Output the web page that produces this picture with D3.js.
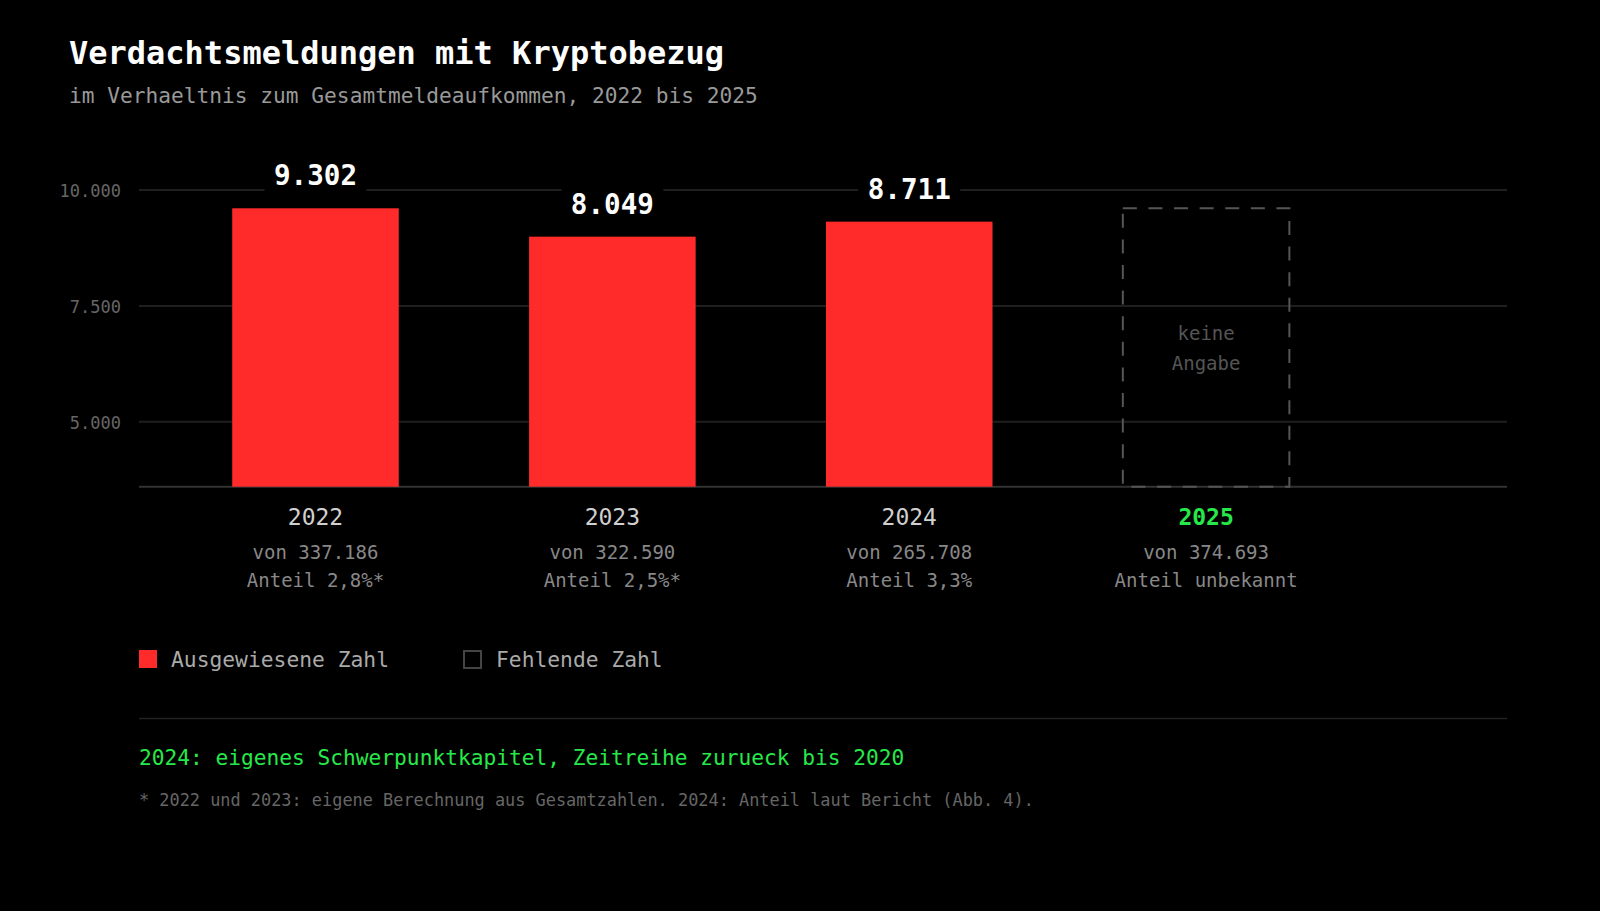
<!DOCTYPE html>
<html>
<head>
<meta charset="utf-8">
<script src="https://cdn.jsdelivr.net/npm/d3@7"></script>
<style>
  html, body { margin: 0; padding: 0; background: #000; }
  svg { display: block; }
  text { font-family: "DejaVu Sans Mono", "Liberation Mono", monospace; }
</style>
</head>
<body>
<svg id="chart" width="1600" height="911"></svg>
<script>
// ---- data ----
const years = ["2022", "2023", "2024", "2025"];
const counts = [9302, 8049, 8711, null];
const countLabels = ["9.302", "8.049", "8.711", null];
const totals = ["von 337.186", "von 322.590", "von 265.708", "von 374.693"];
const shares = ["Anteil 2,8%*", "Anteil 2,5%*", "Anteil 3,3%", "Anteil unbekannt"];
const tickValues = [10000, 7500, 5000];
const tickLabels = ["10.000", "7.500", "5.000"];
const missingLabel = ["keine", "Angabe"];
const legendItems = ["Ausgewiesene Zahl", "Fehlende Zahl"];
const titleText = "Verdachtsmeldungen mit Kryptobezug";
const subtitleText = "im Verhaeltnis zum Gesamtmeldeaufkommen, 2022 bis 2025";
const noteText = "2024: eigenes Schwerpunktkapitel, Zeitreihe zurueck bis 2020";
const footnoteText = "* 2022 und 2023: eigene Berechnung aus Gesamtzahlen. 2024: Anteil laut Bericht (Abb. 4).";

// ---- style ----
const RED = "#ff2b2b", GREEN = "#27e84a";
const svg = d3.select("#chart");
svg.append("rect").attr("width", 1600).attr("height", 911).attr("fill", "#000");

const left = 139, right = 1507, base = 486.7;
const x = d3.scaleBand().domain(years).range([left, 1382.6]).paddingInner(0.439).paddingOuter(0.314);
const yAxis = d3.scaleLinear().domain([3600, 10000]).range([base, 190]);
const yBar = d3.scaleLinear().domain([-3000, d3.max(counts)]).range([base, 208.3]);

// title
svg.append("text").attr("x", 69).attr("y", 64).attr("fill", "#fff")
  .attr("font-size", 32).attr("font-weight", "bold").text(titleText);
svg.append("text").attr("x", 69).attr("y", 102.5).attr("fill", "#999")
  .attr("font-size", 21.2).text(subtitleText);

// gridlines + ticks
const grid = svg.append("g");
tickValues.forEach((v, i) => {
  grid.append("line").attr("x1", left).attr("x2", right)
    .attr("y1", yAxis(v)).attr("y2", yAxis(v))
    .attr("stroke", "#1f1f1f").attr("stroke-width", 2);
  grid.append("text").attr("x", 121).attr("y", yAxis(v) + 7)
    .attr("text-anchor", "end").attr("fill", "#666").attr("font-size", 17)
    .text(tickLabels[i]);
});
svg.append("line").attr("x1", left).attr("x2", right).attr("y1", base).attr("y2", base)
  .attr("stroke", "#333").attr("stroke-width", 2);

// bars
const data = years.map((y, i) => ({ year: y, v: counts[i], lab: countLabels[i], tot: totals[i], sh: shares[i] }));
svg.append("g").selectAll("rect").data(data.filter(d => d.v != null)).join("rect")
  .attr("x", d => x(d.year)).attr("width", x.bandwidth())
  .attr("y", d => yBar(d.v)).attr("height", d => base - yBar(d.v))
  .attr("fill", RED);

// missing box
data.filter(d => d.v == null).forEach(d => {
  const top = yBar(d3.max(counts));
  svg.append("rect").attr("x", x(d.year)).attr("y", top)
    .attr("width", x.bandwidth()).attr("height", base - top)
    .attr("fill", "none").attr("stroke", "#555").attr("stroke-width", 2)
    .attr("stroke-dasharray", "14 11.6");
  const cx = x(d.year) + x.bandwidth() / 2;
  missingLabel.forEach((t, k) => {
    svg.append("text").attr("x", cx).attr("y", 340 + k * 29.5)
      .attr("text-anchor", "middle").attr("fill", "#555").attr("font-size", 19).text(t);
  });
});

// value labels
const vl = svg.append("g");
data.filter(d => d.v != null).forEach(d => {
  const cx = x(d.year) + x.bandwidth() / 2;
  const by = yBar(d.v) - 23;
  vl.append("rect").attr("x", cx - 51).attr("y", by - 28).attr("width", 102).attr("height", 36).attr("fill", "#000");
  vl.append("text").attr("x", cx).attr("y", by).attr("text-anchor", "middle")
    .attr("fill", "#fff").attr("font-size", 27.6).attr("font-weight", "bold").text(d.lab);
});

// category labels
data.forEach((d, i) => {
  const cx = x(d.year) + x.bandwidth() / 2;
  const isMissing = d.v == null;
  svg.append("text").attr("x", cx).attr("y", 524.5).attr("text-anchor", "middle")
    .attr("fill", isMissing ? GREEN : "#d0d0d0").attr("font-size", 23)
    .attr("font-weight", isMissing ? "bold" : "normal").text(d.year);
  svg.append("text").attr("x", cx).attr("y", 559).attr("text-anchor", "middle")
    .attr("fill", "#888").attr("font-size", 19).text(d.tot);
  svg.append("text").attr("x", cx).attr("y", 587).attr("text-anchor", "middle")
    .attr("fill", "#888").attr("font-size", 19).text(d.sh);
});

// legend
const lg = svg.append("g");
lg.append("rect").attr("x", 139).attr("y", 650).attr("width", 18).attr("height", 18).attr("fill", RED);
lg.append("text").attr("x", 171).attr("y", 667).attr("fill", "#aaa").attr("font-size", 21.3).text(legendItems[0]);
lg.append("rect").attr("x", 464).attr("y", 651).attr("width", 17).attr("height", 17)
  .attr("fill", "none").attr("stroke", "#444").attr("stroke-width", 2);
lg.append("text").attr("x", 496).attr("y", 667).attr("fill", "#aaa").attr("font-size", 21.3).text(legendItems[1]);

// separator + notes
svg.append("line").attr("x1", left).attr("x2", right).attr("y1", 718.5).attr("y2", 718.5)
  .attr("stroke", "#222").attr("stroke-width", 1.5);
svg.append("text").attr("x", 139).attr("y", 765).attr("fill", GREEN).attr("font-size", 21.2).text(noteText);
svg.append("text").attr("x", 139).attr("y", 806).attr("fill", "#666").attr("font-size", 16.9).text(footnoteText);
</script>
</body>
</html>
